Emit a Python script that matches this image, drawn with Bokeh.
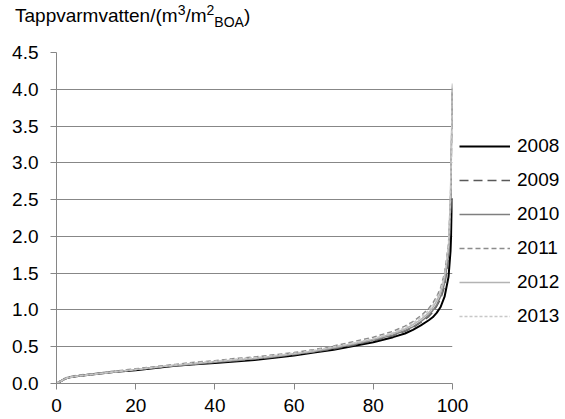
from bokeh.plotting import figure
from bokeh.models import Range1d, Legend, LegendItem, FixedTicker, NumeralTickFormatter, Div
from bokeh.layouts import column
from bokeh.embed import file_html
from bokeh.resources import INLINE

# Share of dwellings (percentile, %) and sorted domestic hot water use per year
pct = [0, 1, 2, 3, 5, 10, 15, 20, 25, 30, 35, 40, 45, 50, 55, 60, 65, 70,
       75, 80, 85, 88, 90, 92, 94, 95, 96, 97, 98, 99, 99.5, 100]
y2008 = [0.00, 0.03, 0.06, 0.08, 0.10, 0.13, 0.16, 0.18, 0.21, 0.24, 0.26, 0.28, 0.30, 0.32, 0.35, 0.38,
         0.42, 0.46, 0.51, 0.56, 0.63, 0.68, 0.73, 0.79, 0.86, 0.90, 0.96, 1.04, 1.18, 1.45, 1.80, 2.52]
y2009 = [0.00, 0.03, 0.06, 0.08, 0.10, 0.13, 0.16, 0.19, 0.21, 0.24, 0.26, 0.29, 0.31, 0.33, 0.36, 0.39,
         0.43, 0.47, 0.52, 0.58, 0.65, 0.71, 0.76, 0.83, 0.91, 0.97, 1.05, 1.15, 1.32, 1.70, 2.30, 4.00]
y2010 = [0.00, 0.03, 0.06, 0.08, 0.10, 0.13, 0.16, 0.19, 0.22, 0.24, 0.27, 0.29, 0.31, 0.34, 0.36, 0.40,
         0.43, 0.48, 0.53, 0.59, 0.66, 0.72, 0.77, 0.84, 0.93, 0.99, 1.07, 1.18, 1.36, 1.75, 2.40, 4.02]
y2011 = [0.00, 0.04, 0.07, 0.09, 0.11, 0.14, 0.17, 0.20, 0.23, 0.26, 0.29, 0.31, 0.34, 0.36, 0.39, 0.42,
         0.46, 0.51, 0.57, 0.63, 0.71, 0.78, 0.84, 0.92, 1.02, 1.09, 1.18, 1.30, 1.50, 1.90, 2.50, 4.00]
y2012 = [0.00, 0.03, 0.06, 0.08, 0.10, 0.13, 0.16, 0.19, 0.22, 0.25, 0.27, 0.30, 0.32, 0.34, 0.37, 0.40,
         0.44, 0.49, 0.54, 0.60, 0.68, 0.74, 0.80, 0.87, 0.96, 1.03, 1.12, 1.24, 1.44, 1.85, 2.60, 4.08]
y2013 = [0.00, 0.03, 0.06, 0.08, 0.10, 0.13, 0.16, 0.19, 0.22, 0.25, 0.28, 0.30, 0.33, 0.35, 0.38, 0.41,
         0.45, 0.50, 0.55, 0.61, 0.69, 0.76, 0.82, 0.90, 0.99, 1.06, 1.15, 1.27, 1.47, 1.88, 2.55, 4.05]

years = ["2008", "2009", "2010", "2011", "2012", "2013"]
series = [y2008, y2009, y2010, y2011, y2012, y2013]
x_ticks = [0, 20, 40, 60, 80, 100]
y_ticks = [0.0, 0.5, 1.0, 1.5, 2.0, 2.5, 3.0, 3.5, 4.0, 4.5]

styles = [
    dict(color="#000000", width=2.0, dash="solid"),
    dict(color="#595959", width=1.5, dash="9 5"),
    dict(color="#7f7f7f", width=1.5, dash="solid"),
    dict(color="#8c8c8c", width=1.5, dash="5 3"),
    dict(color="#b3b3b3", width=1.5, dash="solid"),
    dict(color="#c8c8c8", width=1.5, dash="3 2"),
]

FONT = "Liberation Sans"
FS = "19px"

# y-axis title with superscripts and subscript
title = Div(
    text=('<div style="position:absolute; left:15px; top:6px; white-space:nowrap; '
          'font-family:\'Liberation Sans\'; font-size:19px; color:#000; line-height:19px;">'
          'Tappvarmvatten/(m<sup style="font-size:14px; line-height:0;">3</sup>/m'
          '<sup style="font-size:14px; line-height:0;">2</sup>'
          '<sub style="font-size:14px; line-height:0;">BOA</sub>)</div>'),
    width=565, height=30, margin=0,
)

p = figure(frame_width=396, frame_height=331, output_backend="svg", toolbar_location=None,
           x_range=Range1d(0, 100), y_range=Range1d(0, 4.5),
           min_border_left=56, min_border_top=22, min_border_bottom=36, min_border_right=0)
p.outline_line_color = None
p.background_fill_color = "white"
p.border_fill_color = "white"

# axes
for ax in (p.xaxis[0], p.yaxis[0]):
    ax.axis_line_color = "#868686"
    ax.major_tick_line_color = "#868686"
    ax.major_tick_in = 0
    ax.major_tick_out = 6
    ax.minor_tick_line_color = None
    ax.major_label_text_font = FONT
    ax.major_label_text_font_size = FS
    ax.major_label_text_color = "#000000"
p.xaxis.ticker = FixedTicker(ticks=x_ticks)
p.yaxis.ticker = FixedTicker(ticks=y_ticks)
p.yaxis.formatter = NumeralTickFormatter(format="0.0")
p.xaxis.major_label_standoff = 9
p.yaxis.major_label_standoff = 12

p.xgrid.grid_line_color = None
p.ygrid.grid_line_color = "#878787"
p.ygrid.grid_line_width = 1

items = []
for name, ys, st in zip(years, series, styles):
    r = p.line(pct, ys, line_color=st["color"], line_width=st["width"], line_dash=st["dash"])
    items.append(LegendItem(label=name, renderers=[r]))

legend = Legend(items=items, location=(7, 56), orientation="vertical",
                glyph_width=51, glyph_height=20, label_height=20, label_standoff=7,
                spacing=12, padding=7, margin=0,
                label_text_font=FONT, label_text_font_size=FS, label_text_color="#000000",
                border_line_color=None, background_fill_alpha=0)
p.add_layout(legend, "right")

open("out.html", "w").write(file_html(column(title, p, spacing=0), INLINE))
